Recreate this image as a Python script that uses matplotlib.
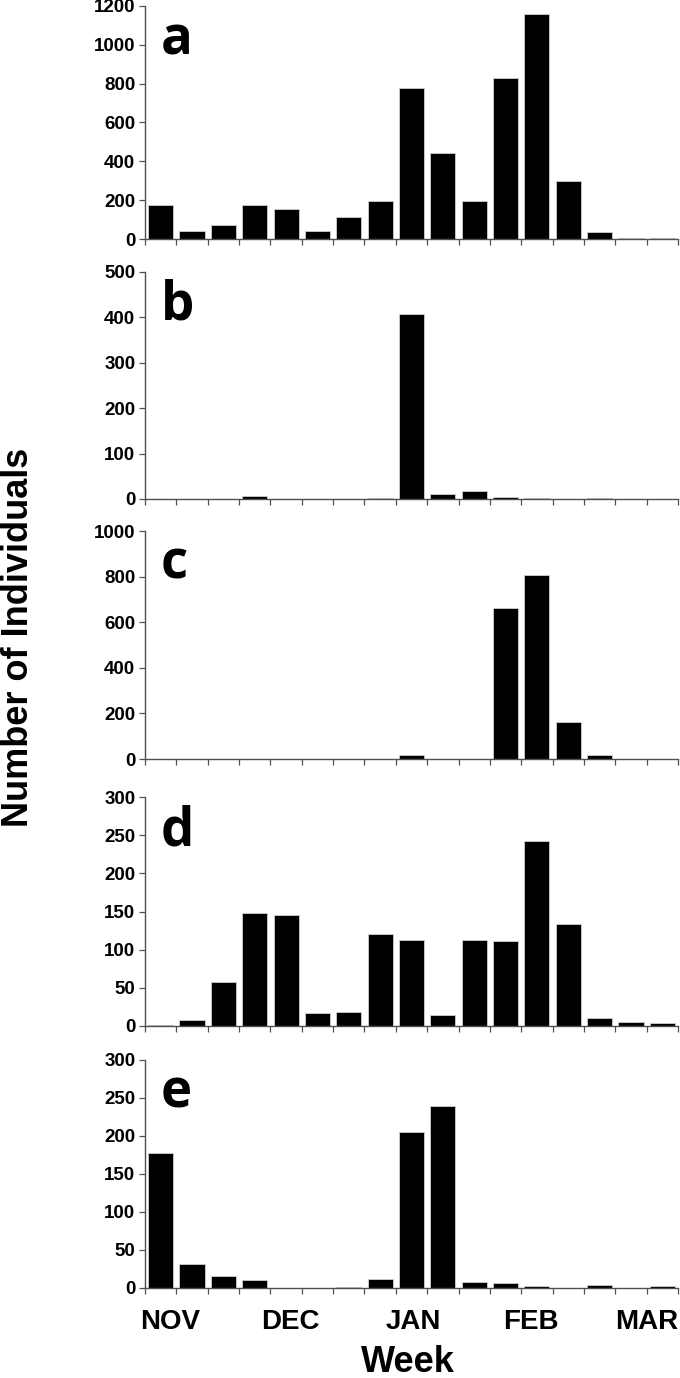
import matplotlib
matplotlib.use("Agg")
import matplotlib.pyplot as plt
import numpy as np

weeks = list(range(17))
panel_letters = ["a", "b", "c", "d", "e"]
vals_a = [177, 43, 74, 173, 153, 43, 113, 194, 780, 444, 194, 828, 1157, 298, 38, 7, 7]
vals_b = [0, 0, 0, 6, 0, 0, 0, 2, 408, 12, 18, 4, 3, 0, 2, 0, 0]
vals_c = [0, 0, 0, 0, 0, 0, 0, 0, 16, 0, 0, 664, 807, 161, 19, 0, 0]
vals_d = [1, 8, 57, 148, 145, 17, 18, 121, 113, 15, 113, 112, 243, 134, 10, 5, 4]
vals_e = [177, 32, 16, 11, 0, 0, 1, 12, 205, 239, 8, 6, 3, 0, 4, 0, 3]
ymax = [1200, 500, 1000, 300, 300]
ystep = [200, 100, 200, 50, 50]
month_labels = ["NOV", "DEC", "JAN", "FEB", "MAR"]
month_pos = [0.3, 4.15, 8.05, 11.8, 15.5]

series = [vals_a, vals_b, vals_c, vals_d, vals_e]

W, H = 680, 1378
fig = plt.figure(figsize=(W / 100, H / 100), dpi=100)

panel_px = [(6, 239), (272, 499), (531, 759), (797, 1026), (1060, 1288)]
left_px, right_px = 145, 678
spine_col = "#505050"

axes = []
for i, (top, bot) in enumerate(panel_px):
    ax = fig.add_axes([left_px / W, 1 - bot / H, (right_px - left_px) / W, (bot - top) / H])
    ax.bar(weeks, series[i], width=0.8, color="black", edgecolor="#d0d0d0", linewidth=0.6)
    ax.set_xlim(-0.5, 16.5)
    ax.set_ylim(0, ymax[i])
    ax.set_yticks(np.arange(0, ymax[i] + 1, ystep[i]))
    ax.set_xticks(np.arange(-0.5, 17, 1.0))
    ax.set_xticklabels([])
    for s in ["top", "right"]:
        ax.spines[s].set_visible(False)
    for s in ["left", "bottom"]:
        ax.spines[s].set_color(spine_col)
        ax.spines[s].set_linewidth(1.0)
    ax.tick_params(axis="both", direction="out", length=4, width=0.9, color=spine_col)
    ax.tick_params(axis="y", pad=3)
    for lab in ax.get_yticklabels():
        lab.set_fontfamily("Liberation Sans")
        lab.set_fontweight("bold")
        lab.set_fontsize(13.5)
    ax.text(0.03, 0.79, panel_letters[i], transform=ax.transAxes, fontsize=38,
            fontweight="bold", family="Open Sans", va="baseline", ha="left")
    axes.append(ax)

ax = axes[-1]
for m, p in zip(month_labels, month_pos):
    ax.text(p, -0.15, m, transform=ax.get_xaxis_transform(), ha="center", va="center",
            fontsize=20, fontweight="bold", family="Liberation Sans")

fig.text(408 / W, 1 - 1363 / H, "Week", ha="center", va="center", fontsize=26,
         fontweight="bold", family="Liberation Sans")
fig.text(28 / W, 1 - 637 / H, "Number of Individuals", ha="center", va="baseline",
         rotation=90, rotation_mode="anchor", fontsize=26, fontweight="bold",
         family="Liberation Sans")

fig.savefig("out.png", dpi=100)
